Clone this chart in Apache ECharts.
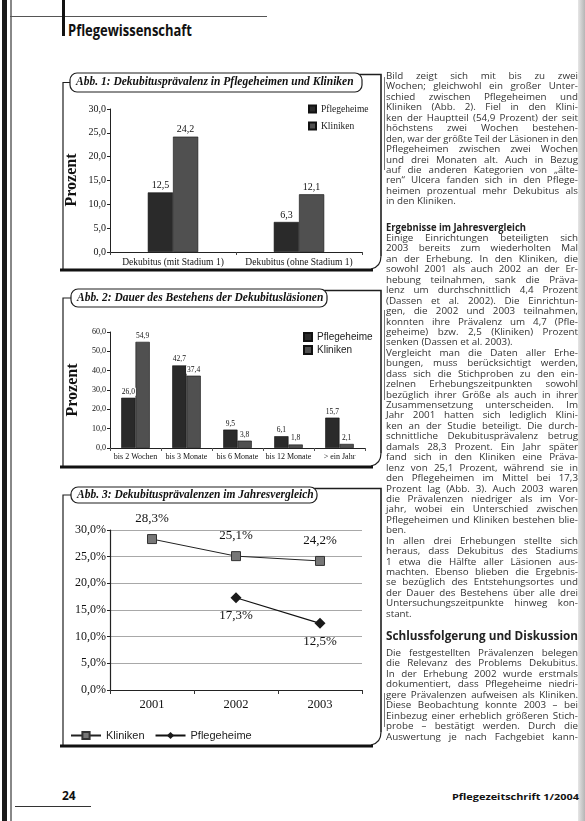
<!DOCTYPE html>
<html><head><meta charset="utf-8">
<script src="https://cdn.jsdelivr.net/npm/echarts@6/dist/echarts.min.js"></script>
<style>
html,body{margin:0;padding:0;background:#fff;}
body{width:585px;height:821px;position:relative;overflow:hidden;}
.abs{position:absolute;}
.chart{position:absolute;}
.col{position:absolute;left:386px;width:192px;font-family:"Open Sans","Noto Sans",sans-serif;font-size:9.8px;color:#333;}
.ln{height:10.45px;line-height:10.45px;transform-origin:0 50%;white-space:nowrap;}
.ln span{white-space:nowrap;}
.fit{position:absolute;white-space:nowrap;transform-origin:0 50%;}
</style>
</head><body>
<!-- page decorations (scan edges / rules) -->
<div class="abs" style="left:2px;top:0;width:5px;height:821px;background:#1a1a1a"></div>
<div class="abs" style="left:10px;top:0;width:1.5px;height:821px;background:#888"></div>
<div class="abs" style="left:10px;top:16px;width:257px;height:1px;background:#555"></div>
<div class="abs" style="left:62px;top:0;width:3px;height:36px;background:#111"></div>
<div class="fit" data-w="124" style="left:68px;top:21px;height:18px;line-height:18px;font-family:'Open Sans','Noto Sans',sans-serif;font-weight:bold;font-size:16px;color:#111">Pflegewissenschaft</div>
<div class="abs" style="left:578px;top:0;width:7px;height:821px;background:linear-gradient(to right,#e6e6e6,#b5b5b5)"></div>
<div class="abs" style="left:384px;top:77px;width:1px;height:93px;background:#777"></div>
<div class="abs" style="left:384px;top:310px;width:1px;height:90px;background:#777"></div>
<div class="abs" style="left:384px;top:693px;width:1px;height:34px;background:#777"></div>

<div id="c1" class="chart" style="left:55px;top:68px;width:335px;height:212px"></div>
<div id="c2" class="chart" style="left:55px;top:285px;width:335px;height:190px"></div>
<div id="c3" class="chart" style="left:55px;top:482px;width:335px;height:270px"></div>

<!-- text column -->
<div class="col" style="top:71px">
<div class="ln"><span>Bild zeigt sich mit bis zu zwei</span></div>
<div class="ln"><span>Wochen; gleichwohl ein großer Unter-</span></div>
<div class="ln"><span>schied zwischen Pflegeheimen und</span></div>
<div class="ln"><span>Kliniken (Abb. 2). Fiel in den Klini-</span></div>
<div class="ln"><span>ken der Hauptteil (54,9 Prozent) der seit</span></div>
<div class="ln"><span>höchstens zwei Wochen bestehen-</span></div>
<div class="ln"><span>den, war der größte Teil der Läsionen in den</span></div>
<div class="ln"><span>Pflegeheimen zwischen zwei Wochen</span></div>
<div class="ln"><span>und drei Monaten alt. Auch in Bezug</span></div>
<div class="ln"><span>auf die anderen Kategorien von „älte-</span></div>
<div class="ln"><span>ren“ Ulcera fanden sich in den Pflege-</span></div>
<div class="ln"><span>heimen prozentual mehr Dekubitus als</span></div>
<div class="ln end"><span>in den Kliniken.</span></div>
</div>
<div class="fit" data-w="140" style="left:386px;top:223px;height:10px;line-height:10px;font-family:'Open Sans','Noto Sans',sans-serif;font-weight:bold;font-size:9.8px;color:#222">Ergebnisse im Jahresvergleich</div>
<div class="col" style="top:233px">
<div class="ln"><span>Einige Einrichtungen beteiligten sich</span></div>
<div class="ln"><span>2003 bereits zum wiederholten Mal</span></div>
<div class="ln"><span>an der Erhebung. In den Kliniken, die</span></div>
<div class="ln"><span>sowohl 2001 als auch 2002 an der Er-</span></div>
<div class="ln"><span>hebung teilnahmen, sank die Präva-</span></div>
<div class="ln"><span>lenz um durchschnittlich 4,4 Prozent</span></div>
<div class="ln"><span>(Dassen et al. 2002). Die Einrichtun-</span></div>
<div class="ln"><span>gen, die 2002 und 2003 teilnahmen,</span></div>
<div class="ln"><span>konnten ihre Prävalenz um 4,7 (Pfle-</span></div>
<div class="ln"><span>geheime) bzw. 2,5 (Kliniken) Prozent</span></div>
<div class="ln end"><span>senken (Dassen et al. 2003).</span></div>
<div class="ln"><span>Vergleicht man die Daten aller Erhe-</span></div>
<div class="ln"><span>bungen, muss berücksichtigt werden,</span></div>
<div class="ln"><span>dass sich die Stichproben zu den ein-</span></div>
<div class="ln"><span>zelnen Erhebungszeitpunkten sowohl</span></div>
<div class="ln"><span>bezüglich ihrer Größe als auch in ihrer</span></div>
<div class="ln"><span>Zusammensetzung unterscheiden. Im</span></div>
<div class="ln"><span>Jahr 2001 hatten sich lediglich Klini-</span></div>
<div class="ln"><span>ken an der Studie beteiligt. Die durch-</span></div>
<div class="ln"><span>schnittliche Dekubitusprävalenz betrug</span></div>
<div class="ln"><span>damals 28,3 Prozent. Ein Jahr später</span></div>
<div class="ln"><span>fand sich in den Kliniken eine Präva-</span></div>
<div class="ln"><span>lenz von 25,1 Prozent, während sie in</span></div>
<div class="ln"><span>den Pflegeheimen im Mittel bei 17,3</span></div>
<div class="ln"><span>Prozent lag (Abb. 3). Auch 2003 waren</span></div>
<div class="ln"><span>die Prävalenzen niedriger als im Vor-</span></div>
<div class="ln"><span>jahr, wobei ein Unterschied zwischen</span></div>
<div class="ln"><span>Pflegeheimen und Kliniken bestehen blie-</span></div>
<div class="ln end"><span>ben.</span></div>
<div class="ln"><span>In allen drei Erhebungen stellte sich</span></div>
<div class="ln"><span>heraus, dass Dekubitus des Stadiums</span></div>
<div class="ln"><span>1 etwa die Hälfte aller Läsionen aus-</span></div>
<div class="ln"><span>machten. Ebenso blieben die Ergebnis-</span></div>
<div class="ln"><span>se bezüglich des Entstehungsortes und</span></div>
<div class="ln"><span>der Dauer des Bestehens über alle drei</span></div>
<div class="ln"><span>Untersuchungszeitpunkte hinweg kon-</span></div>
<div class="ln end"><span>stant.</span></div>
</div>
<div class="fit" data-w="192" style="left:386px;top:627px;height:16px;line-height:16px;font-family:'Open Sans','Noto Sans',sans-serif;font-weight:bold;font-size:13px;color:#222">Schlussfolgerung und Diskussion</div>
<div class="col" style="top:648px">
<div class="ln"><span>Die festgestellten Prävalenzen belegen</span></div>
<div class="ln"><span>die Relevanz des Problems Dekubitus.</span></div>
<div class="ln"><span>In der Erhebung 2002 wurde erstmals</span></div>
<div class="ln"><span>dokumentiert, dass Pflegeheime niedri-</span></div>
<div class="ln"><span>gere Prävalenzen aufweisen als Kliniken.</span></div>
<div class="ln"><span>Diese Beobachtung konnte 2003 – bei</span></div>
<div class="ln"><span>Einbezug einer erheblich größeren Stich-</span></div>
<div class="ln"><span>probe – bestätigt werden. Durch die</span></div>
<div class="ln"><span>Auswertung je nach Fachgebiet kann-</span></div>
</div>

<!-- footer -->
<div class="abs" style="left:62px;top:789px;font-family:'Open Sans','Noto Sans',sans-serif;font-weight:bold;font-size:12px;line-height:14px;color:#111">24</div>
<div class="abs" style="left:15px;top:806px;width:76px;height:1px;background:#333"></div>
<div class="fit" data-w="127" style="left:452px;top:792px;height:10px;line-height:10px;font-family:'Open Sans','Noto Sans',sans-serif;font-weight:bold;font-size:8px;color:#111">Pflegezeitschrift 1/2004</div>

<script>
// ---------- text fitting / justification ----------
document.querySelectorAll('.col').forEach(col => {
  const W = 192;
  col.querySelectorAll('.ln').forEach(ln => {
    const sp = ln.querySelector('span');
    const w = sp.getBoundingClientRect().width;
    if (w > W) {
      ln.style.transform = 'scaleX(' + (W / w) + ')';
    } else if (!ln.classList.contains('end')) {
      const n = (sp.textContent.match(/ /g) || []).length;
      if (n > 0) sp.style.wordSpacing = ((W - w) / n) + 'px';
    }
  });
});
document.querySelectorAll('.fit').forEach(el => {
  const W = +el.dataset.w;
  const w = el.getBoundingClientRect().width;
  el.style.transform = 'scaleX(' + (W / w) + ')';
});

// ---------- data ----------
const seriesNames = ['Pflegeheime', 'Kliniken'];

const abb1Categories = ['Dekubitus (mit Stadium 1)', 'Dekubitus (ohne Stadium 1)'];
const abb1Pflegeheime = [12.5, 6.3];
const abb1Kliniken = [24.2, 12.1];

const abb2Categories = ['bis 2 Wochen', 'bis 3 Monate', 'bis 6 Monate', 'bis 12 Monate', '> ein Jahr'];
const abb2Pflegeheime = [26.0, 42.7, 9.5, 6.1, 15.7];
const abb2Kliniken = [54.9, 37.4, 3.8, 1.8, 2.1];

const abb3Years = ['2001', '2002', '2003'];
const abb3Kliniken = [28.3, 25.1, 24.2];
const abb3Pflegeheime = [null, 17.3, 12.5];

const titles = [
  'Abb. 1: Dekubitusprävalenz in Pflegeheimen und Kliniken',
  'Abb. 2: Dauer des Bestehens der Dekubitusläsionen',
  'Abb. 3: Dekubitusprävalenzen im Jahresvergleich'
];
const axisTitle = 'Prozent';

// ---------- helpers ----------
const serif = '"Liberation Serif","DejaVu Serif",serif';
const sans = '"Liberation Sans","DejaVu Sans",sans-serif';
const ink = '#1e1e1e';
const colP = '#2a2a2a', colK = '#505050';
const fmt1 = v => (v == null ? '' : v.toFixed(1).replace('.', ','));

function frame(o) {
  const midY = o.by + o.bh / 2;
  return [
    {type: 'polyline', silent: true, shape: {points: [[o.bx, midY], [o.left, midY], [o.left, o.bottom]]},
      style: {stroke: ink, lineWidth: 1.2, fill: null}},
    {type: 'polyline', silent: true, shape: {points: [[o.bx + o.bw - 4, o.by + 1.5], [o.right, o.by + 1.5], [o.right, o.bottom - 14]]},
      style: {stroke: ink, lineWidth: 1.6, fill: null}},
    {type: 'bezierCurve', silent: true, shape: {x1: o.right, y1: o.bottom - 14, cpx1: o.right, cpy1: o.bottom - 3, x2: o.right - 10, y2: o.bottom - 1},
      style: {stroke: ink, lineWidth: 1.2, fill: null}},
    {type: 'line', silent: true, shape: {x1: o.left - 3, y1: o.bottom, x2: o.right - 8, y2: o.bottom},
      style: {stroke: '#111', lineWidth: 3}},
    {type: 'rect', silent: true, shape: {x: o.bx, y: o.by, width: o.bw, height: o.bh, r: 7},
      style: {fill: '#fff', stroke: ink, lineWidth: 1.2}},
    {type: 'text', silent: true, x: o.bx + 6, y: midY,
      style: {text: o.title, fill: '#111', fontFamily: serif, fontStyle: 'italic', fontWeight: 'bold',
        fontSize: o.fs || 12, verticalAlign: 'middle', align: 'left'}}
  ];
}
function vTitle(x, y, size) {
  return {type: 'text', silent: true, x: x, y: y, rotation: Math.PI / 2,
    style: {text: axisTitle, fill: '#111', fontFamily: serif, fontWeight: 'bold', fontSize: size,
      align: 'center', verticalAlign: 'middle'}};
}
function barSeries(name, data, color, fs) {
  return {
    type: 'bar', name: name, data: data, barGap: '0%',
    itemStyle: {color: color, borderColor: '#111', borderWidth: 0.6},
    label: {show: true, position: 'top', distance: 2, fontFamily: serif, fontSize: fs, color: '#111',
      backgroundColor: '#fff', padding: [0, 1], formatter: p => fmt1(p.value)}
  };
}

// ---------- Abb. 1 ----------
const c1 = echarts.init(document.getElementById('c1'), null, {renderer: 'canvas'});
c1.setOption({
  animation: false,
  graphic: frame({title: titles[0], bx: 15, by: 5, bw: 292, bh: 19, left: 8, right: 326, bottom: 202, fs: 11.5})
    .concat([vTitle(17, 112, 16)]),
  legend: {data: seriesNames, orient: 'vertical', left: 248, top: 31, itemWidth: 7, itemHeight: 7, itemGap: 7,
    icon: 'rect', textStyle: {fontFamily: serif, fontSize: 9.5, color: '#222'}},
  grid: {left: 55, top: 41, width: 252, height: 143},
  xAxis: {type: 'category', data: abb1Categories,
    axisLine: {lineStyle: {color: '#222', width: 1}}, axisTick: {show: true, length: 3, lineStyle: {color: '#444'}},
    axisLabel: {fontFamily: serif, fontSize: 9.5, color: '#111', margin: 5, interval: 0}},
  yAxis: {type: 'value', min: 0, max: 30, interval: 5,
    axisLine: {show: true, lineStyle: {color: '#222', width: 1}}, axisTick: {show: true, length: 3, lineStyle: {color: '#222'}},
    splitLine: {show: false},
    axisLabel: {fontFamily: serif, fontSize: 10, color: '#111', margin: 4, formatter: v => fmt1(v)}},
  series: [barSeries(seriesNames[0], abb1Pflegeheime, colP, 10), Object.assign(barSeries(seriesNames[1], abb1Kliniken, colK, 10), {barCategoryGap: '60%'})]
});

// ---------- Abb. 2 ----------
const c2 = echarts.init(document.getElementById('c2'), null, {renderer: 'canvas'});
c2.setOption({
  animation: false,
  graphic: frame({title: titles[1], bx: 16, by: 4, bw: 256, bh: 18, left: 8, right: 326, bottom: 182, fs: 11.5})
    .concat([vTitle(18, 105, 16)]),
  legend: {data: seriesNames, orient: 'vertical', left: 243, top: 42, itemWidth: 8, itemHeight: 8, itemGap: 3,
    icon: 'rect', textStyle: {fontFamily: sans, fontSize: 10, color: '#222'}},
  grid: {left: 55, top: 47, width: 255, height: 116},
  xAxis: {type: 'category', data: abb2Categories,
    axisLine: {lineStyle: {color: '#222', width: 1}}, axisTick: {show: true, length: 3, lineStyle: {color: '#555'}},
    axisLabel: {fontFamily: serif, fontSize: 8, color: '#111', margin: 5, interval: 0}},
  yAxis: {type: 'value', min: 0, max: 60, interval: 10,
    axisLine: {show: true, lineStyle: {color: '#222', width: 1}}, axisTick: {show: true, length: 3, lineStyle: {color: '#222'}},
    splitLine: {show: false},
    axisLabel: {fontFamily: serif, fontSize: 8, color: '#111', margin: 4, formatter: v => fmt1(v)}},
  series: [barSeries(seriesNames[0], abb2Pflegeheime, colP, 7.5), Object.assign(barSeries(seriesNames[1], abb2Kliniken, colK, 7.5), {barCategoryGap: '44%'})]
});

// ---------- Abb. 3 ----------
const c3 = echarts.init(document.getElementById('c3'), null, {renderer: 'canvas'});
c3.setOption({
  animation: false,
  graphic: frame({title: titles[2], bx: 16, by: 5, bw: 246, bh: 16, left: 8, right: 326, bottom: 264, fs: 11.5}),
  legend: {data: [seriesNames[1], seriesNames[0]], left: 10, top: 243, itemWidth: 30, itemHeight: 9, itemGap: 10,
    textStyle: {fontFamily: sans, fontSize: 11, color: '#222'}},
  grid: {left: 55, top: 48, width: 252, height: 160},
  xAxis: {type: 'category', data: abb3Years,
    axisLine: {lineStyle: {color: '#222', width: 1.2}}, axisTick: {show: true, length: 4, lineStyle: {color: '#333'}},
    axisLabel: {fontFamily: serif, fontSize: 12.5, color: '#111', margin: 8}},
  yAxis: {type: 'value', min: 0, max: 30, interval: 5,
    axisLine: {show: true, lineStyle: {color: '#222', width: 1.2}}, axisTick: {show: true, length: 3, lineStyle: {color: '#222'}},
    splitLine: {show: true, lineStyle: {color: '#a8a8a8', width: 1.2}},
    axisLabel: {fontFamily: serif, fontSize: 12, color: '#111', margin: 4, formatter: v => fmt1(v) + '%'}},
  series: [
    {type: 'line', name: seriesNames[1], data: abb3Kliniken, symbol: 'rect', symbolSize: 9,
      itemStyle: {color: '#777', borderColor: '#333', borderWidth: 1}, lineStyle: {color: '#222', width: 1},
      label: {show: true, position: 'top', distance: 9, fontFamily: serif, fontSize: 13, color: '#111',
        formatter: p => fmt1(p.value) + '%'}},
    {type: 'line', name: seriesNames[0], data: abb3Pflegeheime, symbol: 'diamond', symbolSize: 11,
      itemStyle: {color: '#1a1a1a'}, lineStyle: {color: '#111', width: 1.2},
      label: {show: true, position: 'bottom', distance: 6, fontFamily: serif, fontSize: 13, color: '#111',
        formatter: p => fmt1(p.value) + '%'}}
  ]
});
</script>
</body></html>
